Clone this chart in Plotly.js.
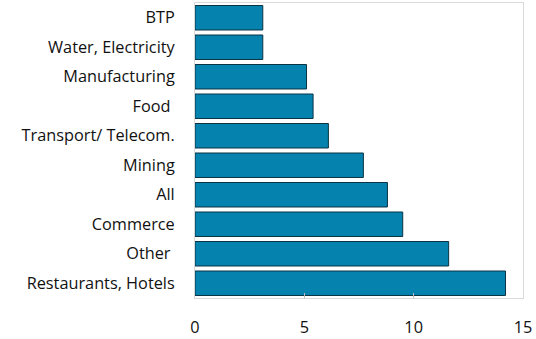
<!DOCTYPE html>
<html><head><meta charset="utf-8">
<script src="https://cdn.plot.ly/plotly-3.0.1.min.js"></script>
<style>html,body{margin:0;padding:0;background:#fff;}#chart{width:536px;height:339px;}</style>
</head><body><div id="chart"></div>
<script>
const categories = ["BTP", "Water, Electricity", "Manufacturing", "Food ", "Transport/ Telecom.", "Mining", "All", "Commerce", "Other ", "Restaurants, Hotels"];
const values = [3.1, 3.1, 5.1, 5.4, 6.1, 7.7, 8.8, 9.5, 11.6, 14.2];
const xTicks = [0, 5, 10, 15];

const trace = {
  type: 'bar', orientation: 'h',
  x: values, y: categories,
  marker: {color: '#0582AE', line: {color: '#0B3344', width: 1}},
  hoverinfo: 'none'
};
const layout = {
  width: 536, height: 339,
  margin: {l: 195, r: 13, t: 3, b: 41},
  paper_bgcolor: '#fff', plot_bgcolor: '#fff',
  bargap: 0.17,
  showlegend: false,
  font: {family: 'Open Sans, sans-serif', size: 16.3, color: '#111'},
  xaxis: {
    range: [0, 15], tickvals: xTicks, ticktext: xTicks.map(String),
    showgrid: false, zeroline: false,
    ticks: 'inside', ticklen: 5, tickcolor: '#bbb',
    ticklabelstandoff: 14,
    showline: true, linecolor: '#d9d9d9', linewidth: 1, mirror: true,
    fixedrange: true
  },
  yaxis: {
    autorange: 'reversed', type: 'category',
    showgrid: false, zeroline: false,
    ticks: '', ticklabelstandoff: 16,
    showline: true, linecolor: '#d9d9d9', linewidth: 1, mirror: true,
    fixedrange: true
  }
};
Plotly.newPlot('chart', [trace], layout, {staticPlot: true, displayModeBar: false});
</script></body></html>
